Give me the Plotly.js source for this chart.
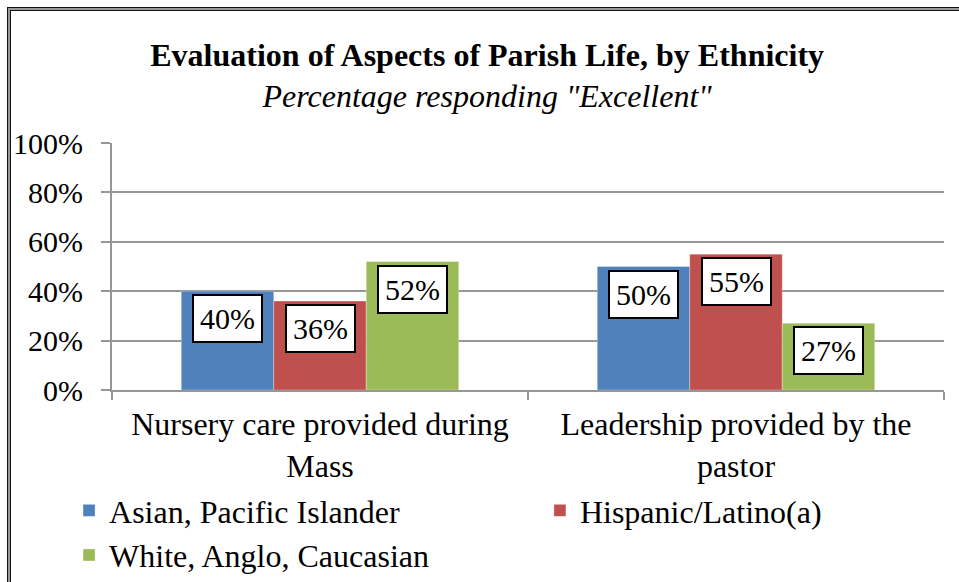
<!DOCTYPE html>
<html>
<head>
<meta charset="utf-8">
<script src="https://cdn.plot.ly/plotly-3.0.1.min.js"></script>
<style>
  body { margin: 0; background: #fff; }
  #wrap { position: relative; width: 959px; height: 582px; overflow: hidden; }
  #chart { width: 959px; height: 582px; }
  #frame {
    position: absolute; left: 7px; top: 7px; width: 980px; height: 620px;
    border: 1px solid #111; box-sizing: border-box;
    box-shadow: inset 0 0 0 2px #999, inset 0 0 0 3px #111;
    pointer-events: none;
  }
</style>
</head>
<body>
<div id="wrap">
  <div id="chart"></div>
  <div id="frame"></div>
</div>
<script>
document.addEventListener("DOMContentLoaded", function() {
  // Categories (x axis)
  const aspects = ["Nursery care provided during<br>Mass", "Leadership provided by the<br>pastor"];
  // Share responding "Excellent", by ethnicity
  const seriesNames = ["Asian, Pacific Islander", "Hispanic/Latino(a)", "White, Anglo, Caucasian"];
  const asian = [0.40, 0.50];
  const hispanic = [0.36, 0.55];
  const white = [0.52, 0.27];
  const colors = ["#4F81BD", "#C0504D", "#9BBB59"];
  // Legend column for each series (two-column legend like the original)
  const legendSlots = ["legend", "legend2", "legend"];

  const serif = "'Liberation Serif', 'Times New Roman', serif";
  const allSeries = [asian, hispanic, white];
  const bargap = 0.333;
  const barW = (1 - bargap) / allSeries.length;

  const traces = allSeries.map(function(vals, i) {
    return {
      type: "bar",
      x: aspects,
      y: vals,
      name: seriesNames[i],
      legend: legendSlots[i],
      marker: { color: colors[i], line: { color: "rgba(255,255,255,0.6)", width: 0.5 } },
      hoverinfo: "none"
    };
  });

  // Boxed data labels, placed just below each bar top
  const annotations = [];
  allSeries.forEach(function(vals, i) {
    vals.forEach(function(v, k) {
      annotations.push({
        x: k + (i - (allSeries.length - 1) / 2) * barW,
        y: v,
        xref: "x", yref: "y",
        text: Math.round(v * 100) + "%",
        showarrow: false,
        yanchor: "top",
        yshift: -3,
        bgcolor: "#fff",
        bordercolor: "#000",
        borderwidth: 2,
        borderpad: 6,
        font: { family: serif, size: 30, color: "#000" }
      });
    });
  });

  const legendFont = { family: serif, size: 32, color: "#000" };

  const layout = {
    width: 959,
    height: 582,
    margin: { l: 112, r: 15, t: 143, b: 192, autoexpand: false },
    paper_bgcolor: "#fff",
    plot_bgcolor: "#fff",
    font: { family: serif, color: "#000" },
    title: {
      text: "<b>Evaluation of Aspects of Parish Life, by Ethnicity</b><br><i>Percentage responding \"Excellent\"</i>",
      font: { family: serif, size: 32, color: "#000" },
      x: 0.508, xanchor: "center",
      y: 0.887, yanchor: "middle"
    },
    barmode: "group",
    bargap: bargap,
    bargroupgap: 0,
    xaxis: {
      type: "category",
      showline: true,
      linecolor: "#969696",
      linewidth: 2,
      ticks: "outside",
      tickson: "boundaries",
      ticklen: 8,
      tickwidth: 2,
      tickcolor: "#969696",
      tickangle: 0,
      ticklabelstandoff: 5,
      tickfont: { family: serif, size: 32, color: "#000" },
      showgrid: false
    },
    yaxis: {
      range: [0, 1],
      tickvals: [0, 0.2, 0.4, 0.6, 0.8, 1],
      tickformat: ".0%",
      showline: true,
      linecolor: "#969696",
      linewidth: 2,
      ticks: "outside",
      ticklen: 9,
      tickwidth: 2,
      tickcolor: "#969696",
      ticklabelstandoff: 12,
      showgrid: true,
      gridcolor: "#969696",
      gridwidth: 2,
      zeroline: false,
      tickfont: { family: serif, size: 30, color: "#000" },
      fixedrange: true
    },
    legend: {
      orientation: "v",
      xref: "container", yref: "container",
      x: 0.072, xanchor: "left",
      y: 0.17, yanchor: "top",
      bgcolor: "rgba(0,0,0,0)",
      font: legendFont,
      tracegroupgap: 0
    },
    legend2: {
      orientation: "v",
      xref: "container", yref: "container",
      x: 0.563, xanchor: "left",
      y: 0.17, yanchor: "top",
      bgcolor: "rgba(0,0,0,0)",
      font: legendFont
    },
    annotations: annotations,
    showlegend: true
  };

  Plotly.newPlot("chart", traces, layout, { displayModeBar: false, staticPlot: true });
});
</script>
</body>
</html>
